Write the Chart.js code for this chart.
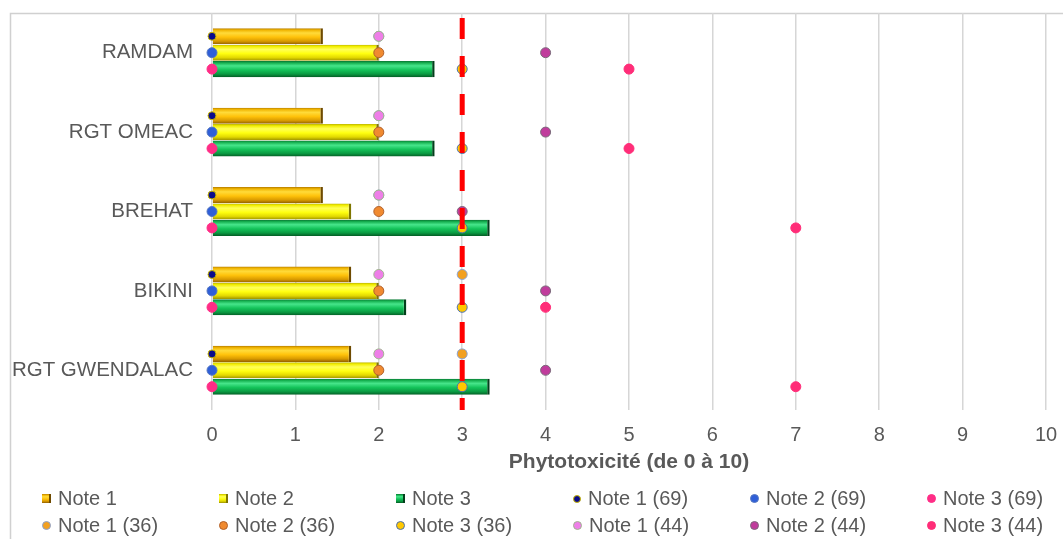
<!DOCTYPE html>
<html>
<head>
<meta charset="utf-8">
<script src="https://cdn.jsdelivr.net/npm/chart.js@4/dist/chart.umd.min.js"></script>
<style>
  html, body { margin: 0; padding: 0; background: #fff; }
  #wrap { position: relative; width: 1063px; height: 539px; overflow: hidden; }
  #legend {
    position: absolute; left: 42px; top: 485px;
    display: grid; grid-template-columns: repeat(6, 177px); grid-auto-rows: 27px;
    font-family: "Liberation Sans", Arial, sans-serif; font-size: 20px; color: #595959;
  }
  .item { display: flex; align-items: center; white-space: nowrap; }
  .sw { display: inline-block; box-sizing: border-box; margin-right: 7px; flex: none; }
</style>
</head>
<body>
<div id="wrap">
  <canvas id="c" width="1063" height="539"></canvas>
  <div id="legend"></div>
</div>
<script>
// Varieties (top to bottom)
const categories = ['RAMDAM', 'RGT OMEAC', 'BREHAT', 'BIKINI', 'RGT GWENDALAC'];

// Mean phytotoxicity scores (bars)
const note1 = [1.33, 1.33, 1.33, 1.67, 1.67];
const note2 = [2.0, 2.0, 1.67, 2.0, 2.0];
const note3 = [2.67, 2.67, 3.33, 2.33, 3.33];

// Individual scores per site (points)
const note1_69 = [0, 0, 0, 0, 0];
const note2_69 = [0, 0, 0, 0, 0];
const note3_69 = [0, 0, 0, 0, 0];
const note1_36 = [2, 2, 2, 3, 3];
const note2_36 = [2, 2, 2, 2, 2];
const note3_36 = [3, 3, 3, 3, 3];
const note1_44 = [2, 2, 2, 2, 2];
const note2_44 = [4, 4, 3, 4, 4];
const note3_44 = [5, 5, 7, 4, 7];

// Acceptability threshold
const threshold = 3;

// x axis ticks
const xTicks = [0, 1, 2, 3, 4, 5, 6, 7, 8, 9, 10];

const FONT = '"Liberation Sans", Arial, sans-serif';
const TEXT = '#595959';
const CAT_PCT = 0.62;              // share of each variety band used by its 3 rows
const ROW_STEP = CAT_PCT / 3;      // distance between rows, in variety units

// Place a series on row `row` (0..2) of each variety band
const onRow = (vals, row) => vals.map((v, i) => ({ x: v, y: i + (row - 1) * ROW_STEP }));

// Cylinder-like vertical gradient for each bar
function cylinder(stops, fallback, row) {
  return (ctx) => {
    const chart = ctx.chart;
    const ys = chart.scales && chart.scales.y;
    if (ctx.type !== 'data' || !chart.chartArea || !ys) return fallback;
    const c = ys.getPixelForValue(ctx.dataIndex + (row - 1) * ROW_STEP);
    const h = Math.abs(ys.getPixelForValue(ROW_STEP) - ys.getPixelForValue(0)) / 2;
    const g = chart.ctx.createLinearGradient(0, c - h, 0, c + h);
    stops.forEach(([p, col]) => g.addColorStop(p, col));
    return g;
  };
}

const barStyles = [
  { label: 'Note 1', data: note1, fallback: '#ffc20a', cap: '#6e4a00',
    stops: [[0, '#b07800'], [0.12, '#f0b400'], [0.3, '#ffdb3a'], [0.55, '#ffc20a'], [0.8, '#d99a00'], [1, '#8f5e00']] },
  { label: 'Note 2', data: note2, fallback: '#ffff10', cap: '#7f7600',
    stops: [[0, '#b8b000'], [0.12, '#f2ee00'], [0.3, '#ffff5a'], [0.55, '#ffff10'], [0.8, '#e2d800'], [1, '#9a9000']] },
  { label: 'Note 3', data: note3, fallback: '#14c35a', cap: '#03401c',
    stops: [[0, '#06702f'], [0.12, '#16b050'], [0.3, '#46e58a'], [0.55, '#14c35a'], [0.8, '#0a9a42'], [1, '#045a24']] }
];

const pointStyles = [
  { label: 'Note 1 (69)', data: note1_69, row: 0, bg: '#0b0b8a', border: '#c9b800', r: 4 },
  { label: 'Note 2 (69)', data: note2_69, row: 1, bg: '#2f5fd8', border: '#5577c0', r: 5 },
  { label: 'Note 3 (69)', data: note3_69, row: 2, bg: '#ff2d86', border: '#ff2d86', r: 5 },
  { label: 'Note 1 (36)', data: note1_36, row: 0, bg: '#f2a020', border: '#8aa2d4', r: 5 },
  { label: 'Note 2 (36)', data: note2_36, row: 1, bg: '#f08a30', border: '#b0602a', r: 5 },
  { label: 'Note 3 (36)', data: note3_36, row: 2, bg: '#ffc800', border: '#4a6fb0', r: 5 },
  { label: 'Note 1 (44)', data: note1_44, row: 0, bg: '#ee7ee8', border: '#9fb78e', r: 5 },
  { label: 'Note 2 (44)', data: note2_44, row: 1, bg: '#c03c9c', border: '#7a6a7a', r: 5 },
  { label: 'Note 3 (44)', data: note3_44, row: 2, bg: '#ff2d78', border: '#ff2d78', r: 5 }
];

const datasets = [];
barStyles.forEach((s, k) => {
  datasets.push({
    type: 'bar', label: s.label, data: onRow(s.data, k), indexAxis: 'y',
    xAxisID: 'x', yAxisID: 'y', order: 200, grouped: false,
    backgroundColor: cylinder(s.stops, s.fallback, k),
    borderColor: s.cap,
    borderWidth: { top: 0, right: 2.5, bottom: 0, left: 0 },
    borderSkipped: 'start',
    categoryPercentage: 1, barPercentage: 0.98
  });
});
pointStyles.forEach((s, j) => {
  datasets.push({
    type: 'scatter', label: s.label, indexAxis: 'x',
    xAxisID: 'x', yAxisID: 'y', order: 100 - j, clip: false,
    data: onRow(s.data, s.row),
    backgroundColor: s.bg, borderColor: s.border, borderWidth: 1,
    pointRadius: s.r, pointHoverRadius: s.r, showLine: false
  });
});
datasets.push({
  type: 'scatter', label: 'Seuil', indexAxis: 'x',
  xAxisID: 'x', yAxisID: 'y', order: 0,
  data: [{ x: threshold, y: -0.5 }, { x: threshold, y: categories.length - 0.5 }],
  showLine: true, pointRadius: 0, borderColor: '#ff0000', borderWidth: 5,
  borderDash: [21, 17], borderDashOffset: 33, borderCapStyle: 'butt'
});

// Light frame around the chart
const frame = {
  id: 'frame',
  beforeDraw(chart) {
    const c = chart.ctx;
    c.save();
    c.strokeStyle = '#d0d0d0';
    c.lineWidth = 1.5;
    c.strokeRect(10.5, 13.5, 1200, 700);
    c.restore();
  }
};

// Keep the plot area exactly inside the layout padding
const noEdgePadding = (s) => { s.paddingTop = 0; s.paddingBottom = 0; s.paddingLeft = 0; s.paddingRight = 0; };

new Chart(document.getElementById('c'), {
  type: 'bar',
  data: { datasets },
  plugins: [frame],
  options: {
    responsive: false, animation: false, devicePixelRatio: 1,
    indexAxis: 'y',
    layout: { padding: { top: 13, right: 17, bottom: 59, left: 0 } },
    plugins: { legend: { display: false }, tooltip: { enabled: false } },
    scales: {
      x: {
        type: 'linear', position: 'bottom', min: 0, max: 10, offset: false,
        afterBuildTicks: (s) => { s.ticks = xTicks.map(v => ({ value: v })); },
        afterFit: (s) => { s.height = 70; noEdgePadding(s); },
        grid: { color: '#d6d6d6', lineWidth: 1.5, drawTicks: false, offset: false },
        border: { display: false },
        ticks: { color: TEXT, font: { family: FONT, size: 20 }, padding: 13 },
        title: { display: true, text: 'Phytotoxicité (de 0 à 10)', color: TEXT,
                 font: { family: FONT, size: 21, weight: 'bold' }, padding: { top: 0, bottom: 5 } }
      },
      y: {
        type: 'linear', position: 'left', offset: false,
        min: -0.5, max: categories.length - 0.5, reverse: true,
        afterBuildTicks: (s) => { s.ticks = categories.map((c, i) => ({ value: i })); },
        afterFit: (s) => { s.width = 212; noEdgePadding(s); },
        grid: { display: false, drawTicks: false, offset: false },
        border: { display: false },
        ticks: { color: TEXT, font: { family: FONT, size: 20.5 }, padding: 19,
                 callback: (v) => categories[v] }
      }
    }
  }
});

// Legend laid out in a 6-column grid
const legend = document.getElementById('legend');
barStyles.concat(pointStyles).forEach((s) => {
  const item = document.createElement('div');
  item.className = 'item';
  const sw = document.createElement('span');
  sw.className = 'sw';
  if (s.stops) {
    sw.style.width = '9px'; sw.style.height = '9px';
    sw.style.background = 'linear-gradient(to bottom,' + s.stops.map(([p, c]) => c + ' ' + (p * 100) + '%').join(',') + ')';
    sw.style.borderRight = '2px solid ' + s.cap;
  } else {
    const d = s.r === 4 ? 8 : 9;
    sw.style.width = d + 'px'; sw.style.height = d + 'px';
    sw.style.borderRadius = '50%';
    sw.style.background = s.bg;
    sw.style.border = '1px solid ' + s.border;
  }
  const t = document.createElement('span');
  t.textContent = s.label;
  item.appendChild(sw); item.appendChild(t);
  legend.appendChild(item);
});
</script>
</body>
</html>
